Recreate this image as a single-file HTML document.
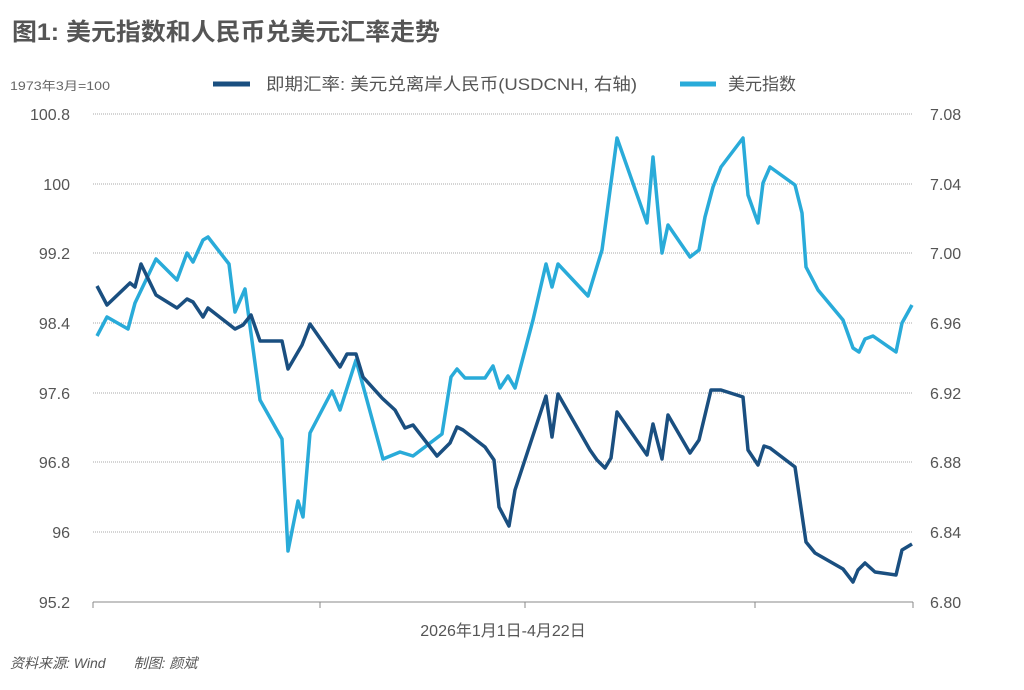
<!DOCTYPE html>
<html><head><meta charset="utf-8"><style>
body{margin:0;background:#fff;width:1024px;height:685px;overflow:hidden;font-family:"Liberation Sans","Noto Sans CJK SC",sans-serif}
</style></head><body>
<svg width="1024" height="685" xmlns="http://www.w3.org/2000/svg" font-family="Liberation Sans, Noto Sans CJK SC, sans-serif">
<text x="12" y="40" font-size="24" font-weight="bold" fill="#555" textLength="428" lengthAdjust="spacingAndGlyphs">图1: 美元指数和人民币兑美元汇率走势</text>
<text x="10" y="90" font-size="12" fill="#666" textLength="100" lengthAdjust="spacingAndGlyphs">1973年3月=100</text>
<line x1="213" y1="84" x2="250" y2="84" stroke="#1a4f80" stroke-width="5"/>
<text x="266" y="90" font-size="17" fill="#555" textLength="371" lengthAdjust="spacingAndGlyphs">即期汇率: 美元兑离岸人民币(USDCNH, 右轴)</text>
<line x1="680" y1="84" x2="716" y2="84" stroke="#29abd9" stroke-width="5"/>
<text x="728" y="90" font-size="17" fill="#555">美元指数</text>
<g stroke="#aaa" stroke-width="1" stroke-dasharray="1,1">
<line x1="93" y1="114" x2="913" y2="114"/><line x1="93" y1="184" x2="913" y2="184"/>
<line x1="93" y1="253" x2="913" y2="253"/><line x1="93" y1="323" x2="913" y2="323"/>
<line x1="93" y1="393" x2="913" y2="393"/><line x1="93" y1="462" x2="913" y2="462"/>
<line x1="93" y1="532" x2="913" y2="532"/></g>
<line x1="93" y1="602" x2="913" y2="602" stroke="#888" stroke-width="1"/>
<g stroke="#888"><line x1="93" y1="602" x2="93" y2="608"/><line x1="320" y1="602" x2="320" y2="608"/><line x1="525" y1="602" x2="525" y2="608"/><line x1="755" y1="602" x2="755" y2="608"/><line x1="913" y1="602" x2="913" y2="608"/></g>
<g font-size="16" fill="#555" text-anchor="end">
<text x="70" y="120">100.8</text><text x="70" y="190">100</text><text x="70" y="259">99.2</text><text x="70" y="329">98.4</text><text x="70" y="399">97.6</text><text x="70" y="468">96.8</text><text x="70" y="538">96</text><text x="70" y="608">95.2</text></g>
<g font-size="16" fill="#555">
<text x="930" y="120">7.08</text><text x="930" y="190">7.04</text><text x="930" y="259">7.00</text><text x="930" y="329">6.96</text><text x="930" y="399">6.92</text><text x="930" y="468">6.88</text><text x="930" y="538">6.84</text><text x="930" y="608">6.80</text></g>
<text x="503" y="636" font-size="16" fill="#555" text-anchor="middle">2026年1月1日-4月22日</text>
<text x="10" y="668" font-size="14" fill="#555" font-style="italic">资料来源: Wind　　制图: 颜斌</text>
<polyline fill="none" stroke="#29abd9" stroke-width="3.5" stroke-linejoin="round" points="97,336 107,317 128,329 135,303 156,259 177,280 187,253 193,262 203,240 208,237 229,264 235,312 245,289 260,400 282,439 288,551 298,501 303,517 310,433 332,391 340,410 356,360 383,459 400,452 413,456 442,434 451,377 457,369 465,378 485,378 493,366 500,388 508,376 515,388 533,320 546,264 552,287 558,264 588,296 602,250 607,213 617,138 647,223 653,157 662,253 668,225 690,257 699,250 705,217 713,187 721,167 743,138 748,195 758,223 763,183 770,167 795,185 802,213 806,267 818,290 843,320 853,348 859,352 865,339 873,336 896,352 902,323 912,305"/>
<polyline fill="none" stroke="#1a4f80" stroke-width="3.5" stroke-linejoin="round" points="97,286 107,305 130,283 135,287 141,264 156,295 177,308 187,299 193,302 203,317 208,308 235,329 243,325 251,315 260,341 282,341 288,369 302,345 310,324 340,367 347,354 356,354 363,377 382,398 395,410 405,428 413,425 437,456 450,443 457,427 463,430 485,447 494,460 499,507 509,526 515,490 546,396 552,437 558,394 590,450 597,460 605,468 611,458 617,412 647,455 653,424 662,459 668,415 690,453 699,440 711,390 721,390 743,397 748,450 758,465 764,446 770,448 795,467 806,542 815,553 843,569 853,582 858,570 865,563 875,572 896,575 902,550 912,544"/>
</svg>
</body></html>
